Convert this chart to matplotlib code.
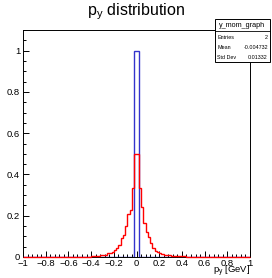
import numpy as np
import matplotlib
matplotlib.use("Agg")
import matplotlib.pyplot as plt
from matplotlib.patches import Rectangle
from matplotlib.ticker import MultipleLocator

plt.rcParams['font.family'] = ['Liberation Sans', 'DejaVu Sans']

# bin edges: 100 bins of width 0.02 from -1 to 1
edges = np.linspace(-1.0, 1.0, 101)

# red histogram: non-zero bins keyed by their lower edge
red_left_edges = [-0.40, -0.38, -0.36, -0.34, -0.32, -0.30, -0.28, -0.26, -0.24, -0.22,
                  -0.20, -0.18, -0.16, -0.14, -0.12, -0.10, -0.08, -0.06, -0.04, -0.02]
red_left_vals = [0.004, 0.004, 0.006, 0.006, 0.008, 0.010, 0.012, 0.018, 0.020, 0.025,
                 0.035, 0.045, 0.060, 0.090, 0.105, 0.150, 0.210, 0.230, 0.335, 0.500]
red_right_edges = [0.00, 0.02, 0.04, 0.06, 0.08, 0.10, 0.12, 0.14, 0.16, 0.18,
                   0.20, 0.22, 0.24, 0.26, 0.28, 0.30, 0.32, 0.34, 0.36, 0.38,
                   0.40, 0.42, 0.44, 0.46]
red_right_vals = [0.500, 0.335, 0.240, 0.165, 0.120, 0.095, 0.070, 0.045, 0.030, 0.025,
                  0.018, 0.015, 0.012, 0.010, 0.008, 0.007, 0.006, 0.005, 0.005, 0.004,
                  0.003, 0.003, 0.002, 0.002]

# blue histogram (y_mom_graph): two entries
blue_bin_edges = [-0.02, 0.00]
blue_vals = [1.0, 1.0]

stats_title = "y_mom_graph"
stats_labels = ["Entries", "Mean", "Std Dev"]
stats_values = ["2", "-0.004732", "0.01332"]

x_ticks = [-1, -0.8, -0.6, -0.4, -0.2, 0, 0.2, 0.4, 0.6, 0.8, 1]
x_ticklabels = ["\u22121", "\u22120.8", "\u22120.6", "\u22120.4", "\u22120.2", "0",
                "0.2", "0.4", "0.6", "0.8", "1"]
y_ticks = [0, 0.2, 0.4, 0.6, 0.8, 1]
y_ticklabels = ["0", "0.2", "0.4", "0.6", "0.8", "1"]


def fill(bin_lows, vals):
    h = np.zeros(len(edges) - 1)
    for lo, v in zip(bin_lows, vals):
        i = int(round((lo + 1.0) / 0.02))
        h[i] = v
    return h


red = fill(red_left_edges + red_right_edges, red_left_vals + red_right_vals)
blue = fill(blue_bin_edges, blue_vals)

W, H = 272, 278
fig = plt.figure(figsize=(W / 100, H / 100), dpi=100)
ax = fig.add_axes([23 / W, (H - 257) / H, 227 / W, 227 / H])

ax.stairs(blue, edges, color='#3333cc', lw=1.0, zorder=3)
ax.stairs(red, edges, color='#ff0000', lw=1.0, zorder=4, clip_on=False)

ax.set_xlim(-1, 1)
ax.set_ylim(0, 1.1)

ax.set_xticks(x_ticks)
ax.set_xticklabels(x_ticklabels)
ax.set_yticks(y_ticks)
ax.set_yticklabels(y_ticklabels)
ax.xaxis.set_minor_locator(MultipleLocator(0.04))
ax.yaxis.set_minor_locator(MultipleLocator(0.05))
ax.tick_params(axis='both', which='both', direction='in', top=False, right=False,
               labelsize=6.8, width=0.7)
ax.tick_params(axis='x', which='both', pad=1.5)
ax.tick_params(axis='y', which='both', pad=2.0)
ax.tick_params(axis='x', which='major', length=4.5)
ax.tick_params(axis='x', which='minor', length=2.3)
ax.tick_params(axis='y', which='major', length=4.5)
ax.tick_params(axis='y', which='minor', length=2.3)
for s in ax.spines.values():
    s.set_linewidth(0.7)

fig.text(136 / W, 1 - 11.5 / H, r"p$_{\mathregular{y}}$ distribution", ha='center', va='center',
         fontsize=11.5)
fig.text(250 / W, 1 - 271.5 / H, r"p$_{\mathregular{y}}$ [GeV]", ha='right', va='center',
         fontsize=6.8)

# stats box
bx0, bx1, by0, by1 = 215, 270, 19, 62
fig.patches.append(Rectangle((bx0 / W, 1 - by1 / H), (bx1 - bx0) / W, (by1 - by0) / H,
                             transform=fig.transFigure, facecolor='white',
                             edgecolor='black', lw=0.7, zorder=10))
fig.lines.append(plt.Line2D([bx0 / W, bx1 / W], [1 - 31 / H, 1 - 31 / H],
                            transform=fig.transFigure, color='black', lw=0.6, zorder=11))
fig.text((bx0 + bx1) / 2 / W, 1 - 25.5 / H, stats_title, ha='center', va='center',
         fontsize=5.2, zorder=12)
for i, (lab, val) in enumerate(zip(stats_labels, stats_values)):
    yy = 1 - (37.5 + i * 10) / H
    fig.text((bx0 + 2) / W, yy, lab, ha='left', va='center', fontsize=3.9, zorder=12)
    fig.text((bx1 - 2) / W, yy, val, ha='right', va='center', fontsize=3.9, zorder=12)

fig.savefig("out.png", dpi=100)
